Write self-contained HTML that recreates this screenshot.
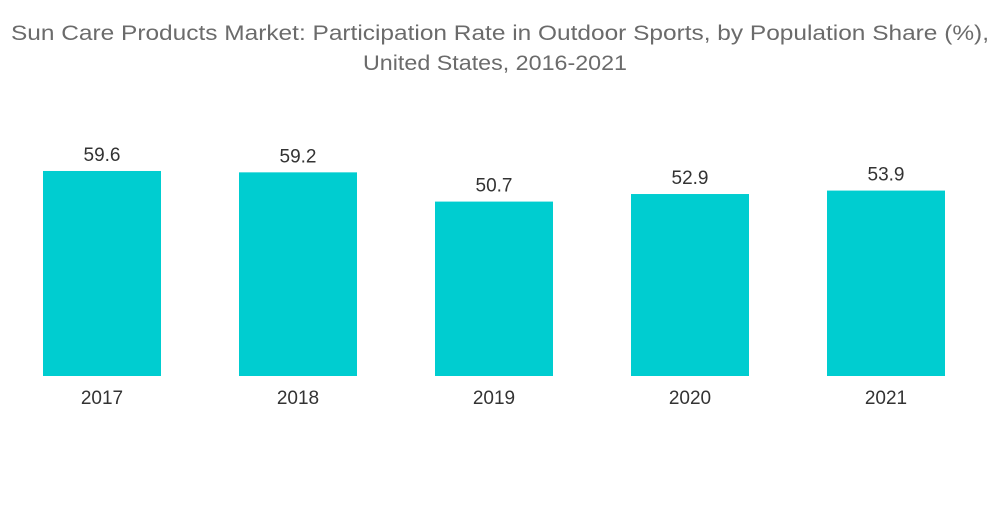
<!DOCTYPE html>
<html><head><meta charset="utf-8"><style>
body{margin:0;width:1000px;height:504px;background:#fff;overflow:hidden;font-family:"Liberation Sans",sans-serif}
</style></head><body>
<svg width="1000" height="504">
<text x="500" y="40" text-anchor="middle" font-size="21" fill="#6b6b6b" textLength="978" lengthAdjust="spacingAndGlyphs">Sun Care Products Market: Participation Rate in Outdoor Sports, by Population Share (%),</text>
<text x="495" y="70" text-anchor="middle" font-size="21" fill="#6b6b6b" textLength="264" lengthAdjust="spacingAndGlyphs">United States, 2016-2021</text>
<g id="bars"></g>
</svg>
<script>
const categories=["2017","2018","2019","2020","2021"];
const values=[59.6,59.2,50.7,52.9,53.9];
const labels=["59.6","59.2","50.7","52.9","53.9"];
const base=376,scale=3.44,x0=43,step=196,bw=118;
const y=v=>base-v*scale;
const g=document.getElementById('bars');
const ns="http://www.w3.org/2000/svg";
categories.forEach((c,i)=>{
  const x=x0+i*step;
  const r=document.createElementNS(ns,'rect');
  
  
  r.setAttribute('x',x);r.setAttribute('y',y(values[i]));
  r.setAttribute('width',bw);r.setAttribute('height',base-y(values[i]));
  r.setAttribute('fill','#00cdd0');g.appendChild(r);
  const t=document.createElementNS(ns,'text');
  
  
  t.setAttribute('x',x+bw/2);t.setAttribute('y',y(values[i])-10);
  t.setAttribute('text-anchor','middle');t.setAttribute('font-size','19');t.setAttribute('fill','#333');
  t.textContent=labels[i];g.appendChild(t);
  const a=document.createElementNS(ns,'text');
  
  
  a.setAttribute('x',x+bw/2);a.setAttribute('y',404);
  a.setAttribute('text-anchor','middle');a.setAttribute('font-size','19');a.setAttribute('fill','#333');
  a.textContent=c;g.appendChild(a);
});
</script>
</body></html>
